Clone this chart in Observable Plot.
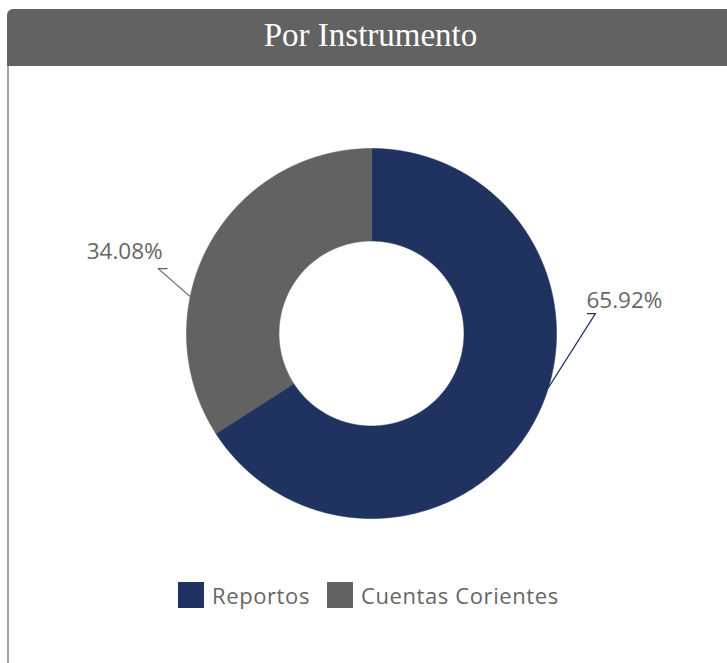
<!DOCTYPE html>
<html><head><meta charset="utf-8">
<script src="https://cdn.jsdelivr.net/npm/d3@7"></script>
<script src="https://cdn.jsdelivr.net/npm/@observablehq/plot@0.6"></script>
<style>
body{margin:0;background:#fff;width:727px;height:663px;overflow:hidden;position:relative;font-family:"Open Sans",sans-serif;}
#header{position:absolute;left:7px;top:9px;width:727px;height:57px;background:#616261;border-top-left-radius:6px;}
#header span{position:absolute;left:0;right:0;top:8px;text-align:center;color:#fff;font-family:"Liberation Serif",serif;font-size:33px;line-height:36px;}
#panel{position:absolute;left:7px;top:66px;width:740px;height:620px;border-left:2px solid #a3a3a3;}
#chart{position:absolute;left:0;top:66px;}
#legend{position:absolute;top:582px;left:178px;display:flex;align-items:center;height:26px;font-size:22px;color:#666;letter-spacing:0.6px;}
#legend .sw{width:26px;height:26px;margin-right:8px;}
#legend .it{display:flex;align-items:center;margin-right:17px;}
</style></head>
<body>
<div id="header"><span>Por Instrumento</span></div>
<div id="panel"></div>
<div id="chart"></div>
<div id="legend"></div>
<script>
const title = "Por Instrumento";
const categories = ["Reportos", "Cuentas Corientes"];
const shares = [65.92, 34.08];
const colors = ["#1f3260", "#616261"];

const R = 185; // outer radius in px
const inner = 0.5;
const total = d3.sum(shares);
let acc = 0;
const slices = categories.map((name, i) => {
  const a0 = acc / total * 2 * Math.PI;
  acc += shares[i];
  const a1 = acc / total * 2 * Math.PI;
  return {name, value: shares[i], a0, a1, mid: (a0 + a1) / 2};
});

const poly = slices.flatMap(s => {
  const n = Math.max(4, Math.ceil((s.a1 - s.a0) / 0.005));
  const pts = [];
  for (let k = 0; k <= n; k++) { const a = s.a0 + (s.a1 - s.a0) * k / n; pts.push({name: s.name, x: Math.sin(a), y: Math.cos(a)}); }
  for (let k = n; k >= 0; k--) { const a = s.a0 + (s.a1 - s.a0) * k / n; pts.push({name: s.name, x: inner * Math.sin(a), y: inner * Math.cos(a)}); }
  return pts;
});

// connector styling (pixel offsets from the slice edge point)
const shiftDeg = [11.65, 17.15];
const bendPx = [[47, -74], [-32, -28]];
const armPx = [-8, -9];
const textLift = [13, 16.5];
const conn = [], labels = [];
slices.forEach((s, i) => {
  const a = s.mid - shiftDeg[i] * Math.PI / 180;
  const p0 = {x: Math.sin(a), y: Math.cos(a)};
  const p1 = {x: p0.x + bendPx[i][0] / R, y: p0.y - bendPx[i][1] / R};
  const right = Math.sin(s.mid) > 0;
  const p2 = {x: p1.x + (right ? armPx[i] : -armPx[i]) / R, y: p1.y};
  conn.push({name: s.name, ...p0}, {name: s.name, ...p1}, {name: s.name, ...p2});
  labels.push({
    name: s.name,
    text: s.value.toFixed(2) + "%",
    x: right ? p2.x - 1 / R : p1.x + 4.5 / R,
    y: p1.y + textLift[i] / R,
    anchor: right ? "start" : "end"
  });
});

const cx = 371, cy = 333 - 66, W = 727, H = 500;
const chart = Plot.plot({
  width: W, height: H,
  marginLeft: cx - R, marginRight: W - cx - R,
  marginTop: cy - R, marginBottom: H - cy - R,
  x: {domain: [-1, 1], axis: null},
  y: {domain: [-1, 1], axis: null},
  color: {domain: categories, range: colors},
  style: {background: "transparent", overflow: "visible"},
  marks: [
    Plot.line(poly, {x: "x", y: "y", z: "name", fill: "name", stroke: "name", strokeWidth: 0.6, curve: "linear-closed"}),
    Plot.line(conn, {x: "x", y: "y", z: "name", stroke: "name", strokeWidth: 1.2}),
    Plot.text(labels.filter(d => d.anchor === "start"), {x: "x", y: "y", text: "text", textAnchor: "start", fill: "#666", fontSize: 22.5, fontFamily: "Open Sans", lineAnchor: "middle"}),
    Plot.text(labels.filter(d => d.anchor === "end"), {x: "x", y: "y", text: "text", textAnchor: "end", fill: "#666", fontSize: 22.5, fontFamily: "Open Sans", lineAnchor: "middle"})
  ]
});
document.getElementById("chart").appendChild(chart);

const leg = document.getElementById("legend");
categories.forEach((c, i) => {
  const it = document.createElement("div"); it.className = "it";
  const sw = document.createElement("div"); sw.className = "sw"; sw.style.background = colors[i];
  const t = document.createElement("span"); t.textContent = c;
  it.appendChild(sw); it.appendChild(t); leg.appendChild(it);
});
</script>
</body></html>
